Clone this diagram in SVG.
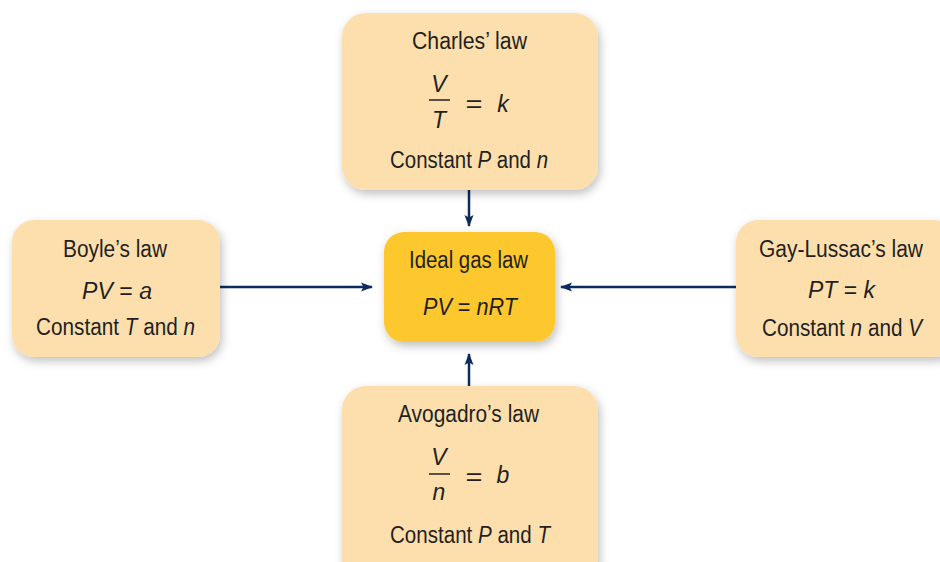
<svg xmlns="http://www.w3.org/2000/svg" width="940" height="562" viewBox="0 0 940 562">
<defs>
<filter id="sh" x="-20%" y="-20%" width="140%" height="150%">
<feDropShadow dx="2" dy="4" stdDeviation="5" flood-color="#000" flood-opacity="0.25"/>
</filter>
<marker id="ah" markerWidth="12" markerHeight="10" refX="11" refY="5" orient="auto" markerUnits="userSpaceOnUse">
<path d="M0,0.5 L12,5 L0,9.5 L2.5,5 Z" fill="#0d2b5e"/>
</marker>
<style>
.box{fill:#fddfae;filter:url(#sh)}
.core{fill:#fdc82f;filter:url(#sh)}
text{font-family:"Liberation Sans Narrow","Liberation Sans",Arial,sans-serif;font-size:23px;fill:#231f20;text-anchor:middle}
.i{font-style:italic}
.c{stroke:#0d2b5e;stroke-width:2.5;fill:none;marker-end:url(#ah)}
.fl{stroke:#231f20;stroke-width:1.5}
</style>
</defs>
<rect width="940" height="562" fill="#fff"/>
<g id="connectors">
<line class="c" x1="469" y1="190" x2="469" y2="226"/>
<line class="c" x1="220" y1="287" x2="372" y2="287"/>
<line class="c" x1="736" y1="287" x2="561" y2="287"/>
<line class="c" x1="469" y1="386" x2="469" y2="354"/>
</g>
<g id="charles">
<rect class="box" x="342" y="13" width="256" height="177" rx="24"/>
<text x="469.5" y="49" textLength="115" lengthAdjust="spacingAndGlyphs">Charles’ law</text>
<text x="439" y="92" class="i">V</text>
<line class="fl" x1="429" y1="100" x2="450" y2="100"/>
<text x="439" y="128" class="i">T</text>
<text x="474" y="112" textLength="17" lengthAdjust="spacingAndGlyphs">=</text>
<text x="503" y="112" class="i">k</text>
<text x="469" y="168" textLength="158" lengthAdjust="spacingAndGlyphs">Constant <tspan class="i">P</tspan> and <tspan class="i">n</tspan></text>
</g>
<g id="boyle">
<rect class="box" x="12" y="220" width="208" height="137" rx="22"/>
<text x="115" y="257" textLength="104" lengthAdjust="spacingAndGlyphs">Boyle’s law</text>
<text x="117" y="299" textLength="70" lengthAdjust="spacingAndGlyphs"><tspan class="i">PV</tspan> = <tspan class="i">a</tspan></text>
<text x="115.5" y="335" textLength="159" lengthAdjust="spacingAndGlyphs">Constant <tspan class="i">T</tspan> and <tspan class="i">n</tspan></text>
</g>
<g id="ideal">
<rect class="core" x="384" y="232" width="171" height="110" rx="20"/>
<text x="468.5" y="268" textLength="119" lengthAdjust="spacingAndGlyphs">Ideal gas law</text>
<text x="470" y="315" textLength="94" lengthAdjust="spacingAndGlyphs"><tspan class="i">PV</tspan> = <tspan class="i">nRT</tspan></text>
</g>
<g id="gaylussac">
<rect class="box" x="736" y="220" width="220" height="137" rx="22"/>
<text x="841" y="257" textLength="164" lengthAdjust="spacingAndGlyphs">Gay-Lussac’s law</text>
<text x="841.5" y="298" textLength="67" lengthAdjust="spacingAndGlyphs"><tspan class="i">PT</tspan> = <tspan class="i">k</tspan></text>
<text x="842" y="336" textLength="160" lengthAdjust="spacingAndGlyphs">Constant <tspan class="i">n</tspan> and <tspan class="i">V</tspan></text>
</g>
<g id="avogadro">
<rect class="box" x="342" y="386" width="256" height="200" rx="24"/>
<text x="468.5" y="422" textLength="141" lengthAdjust="spacingAndGlyphs">Avogadro’s law</text>
<text x="439" y="465" class="i">V</text>
<line class="fl" x1="429" y1="474" x2="450" y2="474"/>
<text x="439" y="500" class="i">n</text>
<text x="474" y="485" textLength="17" lengthAdjust="spacingAndGlyphs">=</text>
<text x="503" y="483" class="i">b</text>
<text x="470" y="543" textLength="160" lengthAdjust="spacingAndGlyphs">Constant <tspan class="i">P</tspan> and <tspan class="i">T</tspan></text>
</g>
</svg>
